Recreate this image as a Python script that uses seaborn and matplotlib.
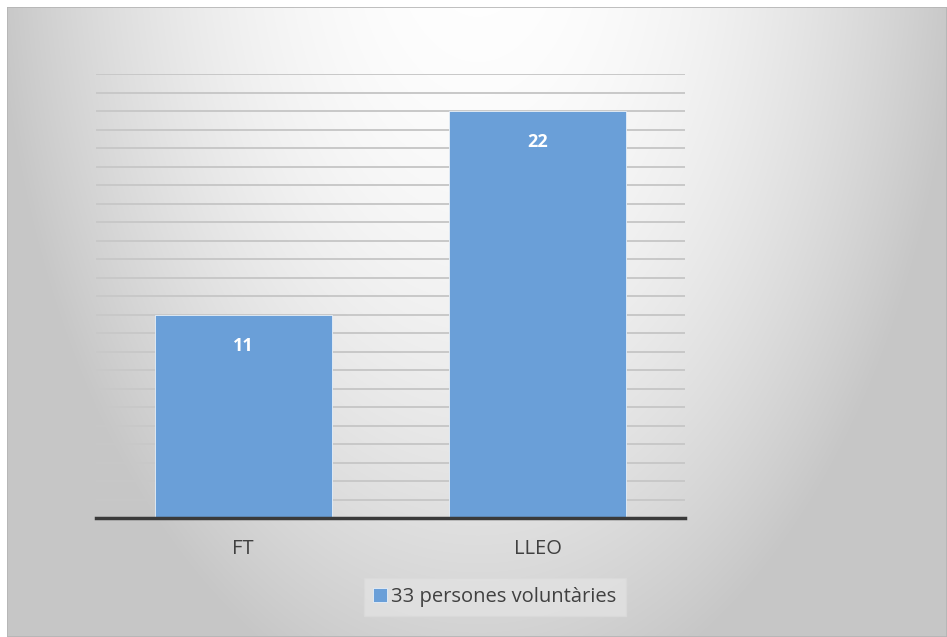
import numpy as np
import pandas as pd
import seaborn as sns
import matplotlib.pyplot as plt
from matplotlib.patches import Rectangle

categories = ["FT", "LLEO"]
values = [11, 22]
series_name = "33 persones voluntàries"

df = pd.DataFrame({"grup": categories, "persones": values})

sns.set_theme(style="white")
plt.rcParams['font.family'] = ['Open Sans', 'DejaVu Sans']

fig = plt.figure(figsize=(9.47, 6.37), dpi=100)
fig.patch.set_facecolor("white")

# gradient background (light at the top centre, grey towards the edges)
bg = fig.add_axes([7 / 947, 0, 940 / 947, 630 / 637], zorder=0)
yy, xx = np.mgrid[0:630, 0:940]
d2 = ((xx - 470) / 470.0) ** 2 + ((yy + 100) / 800.0) ** 2
gray = np.clip(1 - 0.21 * d2, 0.78, 1)
bg.imshow(np.dstack([gray] * 3), aspect="auto", extent=[0, 1, 0, 1])
bg.set_axis_off()
bg.add_patch(Rectangle((0, 0), 1, 1, transform=bg.transAxes, fill=False,
                       edgecolor="#b4b4b4", lw=1.2))

ax = fig.add_axes([96 / 947, 1 - 518 / 637, 589 / 947, 444 / 637], zorder=1)
ax.patch.set_alpha(0)

sns.barplot(data=df, x="grup", y="persones", color="#6a9fd8", width=0.6,
            saturation=1, ax=ax, zorder=2, label=series_name,
            edgecolor="#e8f0f8", linewidth=0.6)

ax.set_ylim(0, 24)
ax.set_yticks(range(0, 25))
ax.yaxis.grid(True, color="#c8c8c8", lw=1.4)
ax.set_axisbelow(True)
ax.tick_params(axis="y", left=False, labelleft=False)
ax.tick_params(axis="x", bottom=False, labelsize=14.5, labelcolor="#404040", pad=9)
ax.set_xlabel("")
ax.set_ylabel("")
for s in ["top", "right", "left"]:
    ax.spines[s].set_visible(False)
ax.spines["bottom"].set_color("#3a3a3a")
ax.spines["bottom"].set_linewidth(2.5)
if ax.get_legend() is not None:
    ax.get_legend().remove()

for c in ax.containers:
    ax.bar_label(c, labels=[str(v) for v in values], padding=-29,
                 color="white", fontweight="bold", fontsize=13)

handles, labels = ax.get_legend_handles_labels()
leg = fig.legend(handles, labels, loc="center",
                 bbox_to_anchor=(495 / 947, 1 - 597 / 637),
                 fontsize=14.5, frameon=True, fancybox=False, handlelength=0.7,
                 handleheight=0.7, handletextpad=0.2, borderpad=0.45)
leg.get_frame().set_facecolor("#e2e2e2")
leg.get_frame().set_edgecolor("#dadada")
for t in leg.get_texts():
    t.set_color("#404040")

fig.savefig("out.png", dpi=100)
